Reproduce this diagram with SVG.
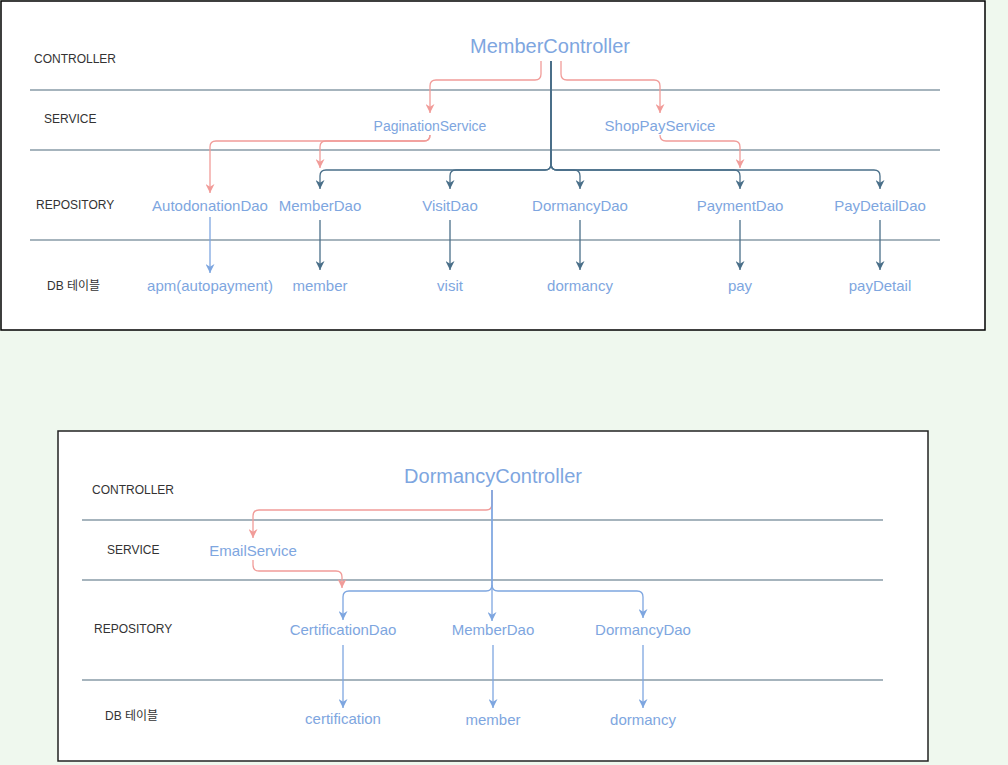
<svg xmlns="http://www.w3.org/2000/svg" width="1008" height="765" viewBox="0 0 1008 765">
<style>
.lbl{font-family:"Liberation Sans",Arial,"Noto Sans CJK KR",sans-serif;font-size:12px;fill:#333333}
.node{font-family:"Liberation Sans",Arial,sans-serif;font-size:15px;fill:#7ea6e0;text-anchor:middle}
.ctrl{font-size:20px}
.div{stroke:#4e6b7c;stroke-width:1.2;fill:none}
.pink{stroke:#f19c99;stroke-width:1.3;fill:none}
.dark{stroke:#4a6f89;stroke-width:1.3;fill:none}
.blue{stroke:#7ea6e0;stroke-width:1.3;fill:none}
</style>
<defs>
<marker id="aPink" viewBox="0 0 10 10" refX="10" refY="5" markerWidth="9" markerHeight="9" markerUnits="userSpaceOnUse" orient="auto"><path d="M0,0 L10,5 L0,10 L3,5 z" fill="#f19c99"/></marker>
<marker id="aDark" viewBox="0 0 10 10" refX="10" refY="5" markerWidth="9" markerHeight="9" markerUnits="userSpaceOnUse" orient="auto"><path d="M0,0 L10,5 L0,10 L3,5 z" fill="#4a6f89"/></marker>
<marker id="aBlue" viewBox="0 0 10 10" refX="10" refY="5" markerWidth="9" markerHeight="9" markerUnits="userSpaceOnUse" orient="auto"><path d="M0,0 L10,5 L0,10 L3,5 z" fill="#7ea6e0"/></marker>
</defs>
<rect x="0" y="0" width="1008" height="765" fill="#eff8ee"/>

<!-- Top diagram frame -->
<g id="frame1">
<rect x="1" y="1" width="984" height="329" fill="#ffffff" stroke="#000000" stroke-width="1.5"/>
<line class="div" x1="30" y1="90" x2="940" y2="90"/>
<line class="div" x1="30" y1="150" x2="940" y2="150"/>
<line class="div" x1="30" y1="240" x2="940" y2="240"/>
<text class="lbl" x="34" y="63">CONTROLLER</text>
<text class="lbl" x="44" y="123">SERVICE</text>
<text class="lbl" x="36" y="209">REPOSITORY</text>
<text class="lbl" x="47" y="290">DB 테이블</text>
</g>

<!-- Bottom diagram frame -->
<g id="frame2">
<rect x="58" y="431" width="870" height="330" fill="#ffffff" stroke="#222222" stroke-width="1.5"/>
<line class="div" x1="82" y1="520" x2="883" y2="520"/>
<line class="div" x1="82" y1="580" x2="883" y2="580"/>
<line class="div" x1="82" y1="680" x2="883" y2="680"/>
<text class="lbl" x="92" y="494">CONTROLLER</text>
<text class="lbl" x="107" y="554">SERVICE</text>
<text class="lbl" x="94" y="633">REPOSITORY</text>
<text class="lbl" x="105" y="720">DB 테이블</text>
</g>

<g id="connectors">
<!-- top: controller to services -->
<path class="pink" d="M541,61 L541,74 Q541,80 535,80 L436,80 Q430,80 430,86 L430,113" marker-end="url(#aPink)"/>
<path class="pink" d="M561,61 L561,74 Q561,80 567,80 L654,80 Q660,80 660,86 L660,113" marker-end="url(#aPink)"/>
<!-- services to daos -->
<path class="pink" d="M430,135 Q430,141 424,141 L216,141 Q210,141 210,147 L210,193" marker-end="url(#aPink)"/>
<path class="pink" d="M430,135 Q430,141 424,141 L326,141 Q320,141 320,147 L320,168" marker-end="url(#aPink)"/>
<path class="pink" d="M660,135 Q660,141 666,141 L734,141 Q740,141 740,147 L740,168" marker-end="url(#aPink)"/>
<!-- controller to daos -->
<path class="dark" d="M551,61 L551,164 Q551,170 545,170 L326,170 Q320,170 320,176 L320,189" marker-end="url(#aDark)"/>
<path class="dark" d="M551,61 L551,164 Q551,170 545,170 L456,170 Q450,170 450,176 L450,189" marker-end="url(#aDark)"/>
<path class="dark" d="M551,61 L551,164 Q551,170 557,170 L574,170 Q580,170 580,176 L580,189" marker-end="url(#aDark)"/>
<path class="dark" d="M551,61 L551,164 Q551,170 557,170 L734,170 Q740,170 740,176 L740,189" marker-end="url(#aDark)"/>
<path class="dark" d="M551,61 L551,164 Q551,170 557,170 L874,170 Q880,170 880,176 L880,189" marker-end="url(#aDark)"/>
<!-- daos to tables -->
<path class="blue" d="M210,217 L210,273" marker-end="url(#aBlue)"/>
<path class="dark" d="M320,220 L320,270" marker-end="url(#aDark)"/>
<path class="dark" d="M450,220 L450,270" marker-end="url(#aDark)"/>
<path class="dark" d="M580,220 L580,270" marker-end="url(#aDark)"/>
<path class="dark" d="M740,220 L740,270" marker-end="url(#aDark)"/>
<path class="dark" d="M880,220 L880,270" marker-end="url(#aDark)"/>

<!-- bottom -->
<path class="pink" d="M492,490 L492,504 Q492,510 486,510 L259,510 Q253,510 253,516 L253,538" marker-end="url(#aPink)"/>
<path class="pink" d="M253,560 L253,565 Q253,571 259,571 L336,571 Q342,571 342,577 L342,588" marker-end="url(#aPink)"/>
<path class="blue" d="M492,490 L492,621" marker-end="url(#aBlue)"/>
<path class="blue" d="M492,490 L492,585 Q492,591 486,591 L349,591 Q343,591 343,597 L343,620" marker-end="url(#aBlue)"/>
<path class="blue" d="M492,585 Q492,591 498,591 L637,591 Q643,591 643,597 L643,618" marker-end="url(#aBlue)"/>
<path class="blue" d="M343,645 L343,708" marker-end="url(#aBlue)"/>
<path class="blue" d="M493,645 L493,708" marker-end="url(#aBlue)"/>
<path class="blue" d="M643,645 L643,708" marker-end="url(#aBlue)"/>
</g>

<!-- top nodes -->
<g id="MemberController"><text class="node ctrl" x="550" y="53">MemberController</text></g>
<g id="PaginationService"><text class="node" x="430" y="131" style="font-size:14px">PaginationService</text></g>
<g id="ShopPayService"><text class="node" x="660" y="131">ShopPayService</text></g>
<g id="AutodonationDao"><text class="node" x="210" y="211">AutodonationDao</text></g>
<g id="MemberDao1"><text class="node" x="320" y="211">MemberDao</text></g>
<g id="VisitDao"><text class="node" x="450" y="211">VisitDao</text></g>
<g id="DormancyDao1"><text class="node" x="580" y="211">DormancyDao</text></g>
<g id="PaymentDao"><text class="node" x="740" y="211">PaymentDao</text></g>
<g id="PayDetailDao"><text class="node" x="880" y="211">PayDetailDao</text></g>
<g id="apm"><text class="node" x="210" y="291">apm(autopayment)</text></g>
<g id="member1"><text class="node" x="320" y="291">member</text></g>
<g id="visit"><text class="node" x="450" y="291">visit</text></g>
<g id="dormancy1"><text class="node" x="580" y="291">dormancy</text></g>
<g id="pay"><text class="node" x="740" y="291">pay</text></g>
<g id="payDetail"><text class="node" x="880" y="291">payDetail</text></g>

<!-- bottom nodes -->
<g id="DormancyController"><text class="node ctrl" x="493" y="483">DormancyController</text></g>
<g id="EmailService"><text class="node" x="253" y="556">EmailService</text></g>
<g id="CertificationDao"><text class="node" x="343" y="635">CertificationDao</text></g>
<g id="MemberDao2"><text class="node" x="493" y="635">MemberDao</text></g>
<g id="DormancyDao2"><text class="node" x="643" y="635">DormancyDao</text></g>
<g id="certification"><text class="node" x="343" y="724">certification</text></g>
<g id="member2"><text class="node" x="493" y="725">member</text></g>
<g id="dormancy2"><text class="node" x="643" y="725">dormancy</text></g>
</svg>
